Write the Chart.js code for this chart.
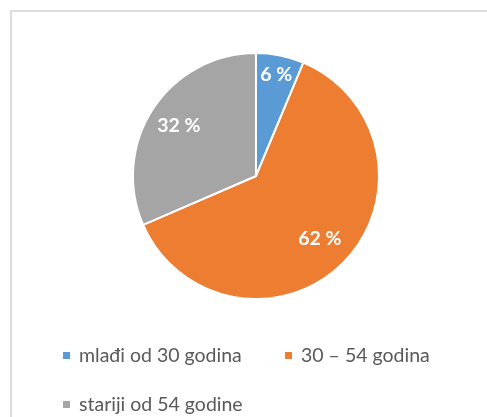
<!DOCTYPE html>
<html>
<head>
<meta charset="utf-8">
<script src="https://cdn.jsdelivr.net/npm/chart.js@4"></script>
<style>
  html, body { margin: 0; padding: 0; background: #ffffff; width: 487px; height: 417px; overflow: hidden; }
  #frame { position: absolute; left: 10px; top: 10px; width: 600px; height: 600px;
           border-left: 2px solid #dcdcdc; border-top: 2px solid #dcdcdc; }
  #wrap { position: absolute; left: 0; top: 0; width: 487px; height: 340px; }
  #legend { position: absolute; left: 0; top: 0; width: 487px; height: 417px; pointer-events: none;
            font-family: Lato, "Liberation Sans", sans-serif; font-size: 19.5px; color: #595959; }
  .item { position: absolute; white-space: nowrap; line-height: 22px; }
  .box { display: inline-block; width: 7px; height: 7px; margin-right: 9px; vertical-align: 3px; }
</style>
</head>
<body>
<div id="frame"></div>
<div id="wrap"><canvas id="c"></canvas></div>
<div id="legend"></div>
<script>
const categories = ["mlađi od 30 godina", "30 – 54 godina", "stariji od 54 godine"];
const shares = [6.3, 62.2, 31.5];
const colors = ["#5b9bd5", "#ed7d31", "#a5a5a5"];
const labelRadius = [0.84, 0.73, 0.75];
const legendPos = [[63, 344], [285, 344], [63, 393]];

const pieLabels = {
  id: 'pieLabels',
  afterDatasetsDraw(chart) {
    const ctx = chart.ctx;
    const meta = chart.getDatasetMeta(0);
    ctx.save();
    ctx.font = 'bold 19.5px Lato, "Liberation Sans", sans-serif';
    ctx.fillStyle = '#ffffff';
    ctx.textAlign = 'center';
    ctx.textBaseline = 'middle';
    meta.data.forEach((arc, i) => {
      const p = arc.getProps(['x', 'y', 'startAngle', 'endAngle', 'outerRadius']);
      const mid = (p.startAngle + p.endAngle) / 2;
      const r = p.outerRadius * labelRadius[i];
      ctx.fillText(Math.round(shares[i]) + ' %', p.x + Math.cos(mid) * r, p.y + Math.sin(mid) * r);
    });
    ctx.restore();
  }
};

new Chart(document.getElementById('c'), {
  type: 'pie',
  data: {
    labels: categories,
    datasets: [{
      data: shares,
      backgroundColor: colors,
      borderColor: '#ffffff',
      borderWidth: 2
    }]
  },
  options: {
    responsive: true,
    maintainAspectRatio: false,
    animation: false,
    layout: { padding: { left: 132, right: 107, top: 52, bottom: 40 } },
    plugins: { legend: { display: false }, tooltip: { enabled: false } }
  },
  plugins: [pieLabels]
});

const legend = document.getElementById('legend');
categories.forEach((name, i) => {
  const d = document.createElement('div');
  d.className = 'item';
  d.style.left = legendPos[i][0] + 'px';
  d.style.top = legendPos[i][1] + 'px';
  const b = document.createElement('span');
  b.className = 'box';
  b.style.background = colors[i];
  d.appendChild(b);
  d.appendChild(document.createTextNode(name));
  legend.appendChild(d);
});
</script>
</body>
</html>
